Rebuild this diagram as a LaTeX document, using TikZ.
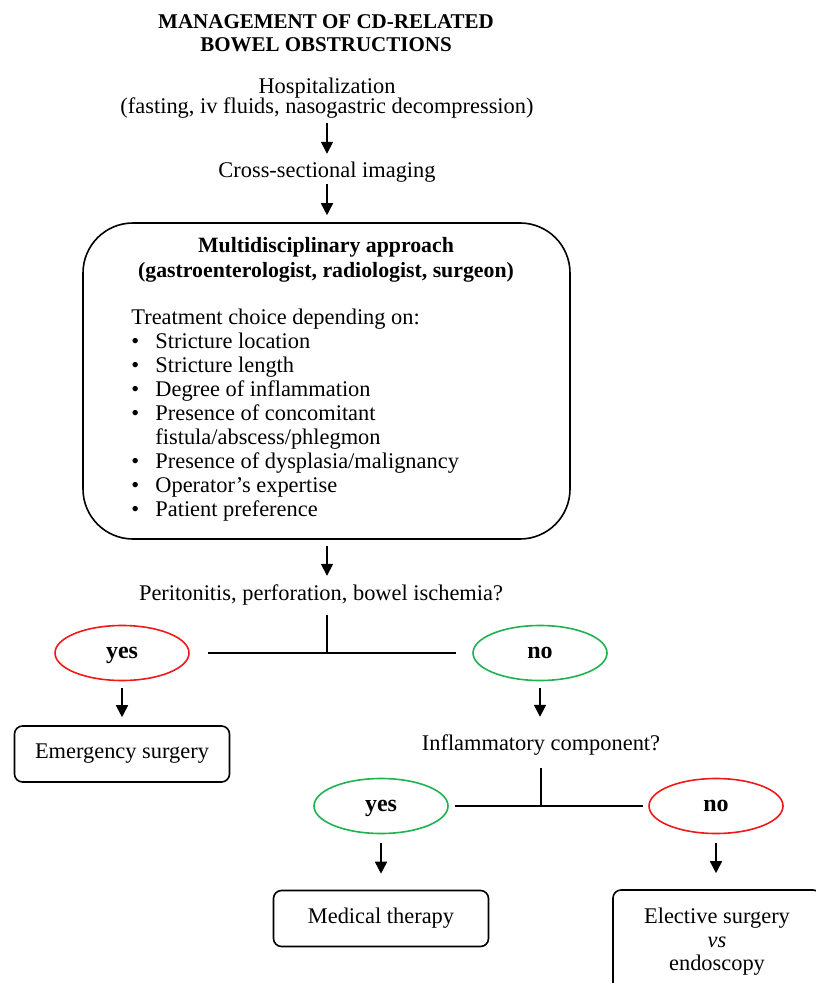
\documentclass[tikz,border=0pt]{standalone}
\usepackage{fontspec}
\setmainfont{Liberation Serif}
\usetikzlibrary{shapes.geometric,arrows.meta}
\definecolor{alarmred}{RGB}{240,24,24}
\definecolor{safegreen}{RGB}{30,178,80}
\begin{document}
\begin{tikzpicture}[x=0.5pt,y=-0.5pt,
      txt/.style={font=\fontsize{11.2}{12}\selectfont,inner sep=0pt,text height=7.5pt,text depth=2.3pt},
      lines/.style={align=center,inner sep=0pt},
      choice/.style={ellipse,draw,line width=0.8pt,minimum width=67pt,minimum height=27.5pt,
        inner sep=0pt,text height=7.8pt,text depth=2.2pt,font=\bfseries\fontsize{12}{12}\selectfont},
      outcome/.style={draw,line width=0.8pt,rounded corners=4pt,minimum width=107.5pt,
        minimum height=28pt,inner sep=0pt,align=center,font=\fontsize{11.2}{11.75}\selectfont},
      arr/.style={line width=0.8pt,-{Triangle[width=6pt,length=6pt]}},
      link/.style={line width=0.9pt}]
  \useasboundingbox (0,0) rectangle (815,983);
  \node[lines,font=\bfseries\fontsize{10.5}{11.5}\selectfont] (title) at (326,33)
    {MANAGEMENT OF CD-RELATED\\BOWEL OBSTRUCTIONS};
  \node[lines,font={\fontsize{11.2}{10}\selectfont\lineskiplimit=-5pt\relax}] (hosp) at (327,98.5)
    {Hospitalization\\(fasting, iv fluids, nasogastric decompression)};
  \node[txt] (cross) at (327,172) {Cross-sectional imaging};
  \node[draw,line width=0.8pt,rounded corners=25pt,minimum width=243.5pt,minimum height=158pt] (mdbox) at (326.5,381) {};
  \node[lines,font=\bfseries\fontsize{10.9}{12.5}\selectfont] (mdhead) at (326,260)
    {Multidisciplinary approach\\(gastroenterologist, radiologist, surgeon)};
  \node[txt,anchor=west] (criteria) at (131,319) {Treatment choice depending on:};
  \foreach \y/\entry [count=\i] in {343/Stricture location,367/Stricture length,391/Degree of inflammation,
      415/Presence of concomitant,463/{Presence of dysplasia/malignancy},487/Operator’s expertise,511/Patient preference} {
    \node[txt,anchor=west] (item\i) at (131,\y) {\makebox[12pt][l]{\textbullet}\entry};
  }
  \node[txt,anchor=west] (item4b) at (155,439) {fistula/abscess/phlegmon};
  \node[txt] (perit) at (321,595) {Peritonitis, perforation, bowel ischemia?};
  \coordinate (fork1) at (327,653);
  \node[choice,draw=alarmred] (yes1) at (122,653) {yes};
  \node[choice,draw=safegreen] (no1) at (540,653) {no};
  \node[outcome] (emerg) at (122,754) {Emergency surgery};
  \node[txt] (inflam) at (541,745) {Inflammatory component?};
  \coordinate (fork2) at (541,806);
  \node[choice,draw=safegreen] (yes2) at (381,806) {yes};
  \node[choice,draw=alarmred] (no2) at (716,806) {no};
  \node[outcome] (medical) at (381,918.5) {Medical therapy};
  \node[outcome,minimum width=104pt,minimum height=52pt] (elective) at (717,942)
    {Elective surgery\\\textit{vs}\\endoscopy};
  \draw[arr,shorten <=2pt,shorten >=4pt] (hosp) -- (cross);
  \draw[arr,shorten <=1pt,shorten >=3.5pt] (cross) -- (cross |- mdbox.north);
  \draw[arr,shorten <=3pt,shorten >=4.5pt] (fork1 |- mdbox.south) -- (fork1 |- perit.north);
  \draw[link,shorten <=5pt] (fork1 |- perit.south) -- (fork1);
  \draw[link,shorten <=9pt,shorten >=8pt] (yes1) -- (no1);
  \draw[arr,shorten <=3.5pt,shorten >=4pt] (yes1) -- (emerg);
  \draw[arr,shorten <=3.5pt,shorten >=9pt] (no1) -- (no1 |- inflam.north);
  \draw[link,shorten <=6.5pt] (inflam) -- (fork2);
  \draw[link,shorten <=3pt,shorten >=2.5pt] (yes2) -- (no2);
  \draw[arr,shorten <=4.5pt,shorten >=8pt] (yes2) -- (medical);
  \draw[arr,shorten <=4.5pt,shorten >=8pt] (no2) -- (no2 |- elective.north);
\end{tikzpicture}
\end{document}
